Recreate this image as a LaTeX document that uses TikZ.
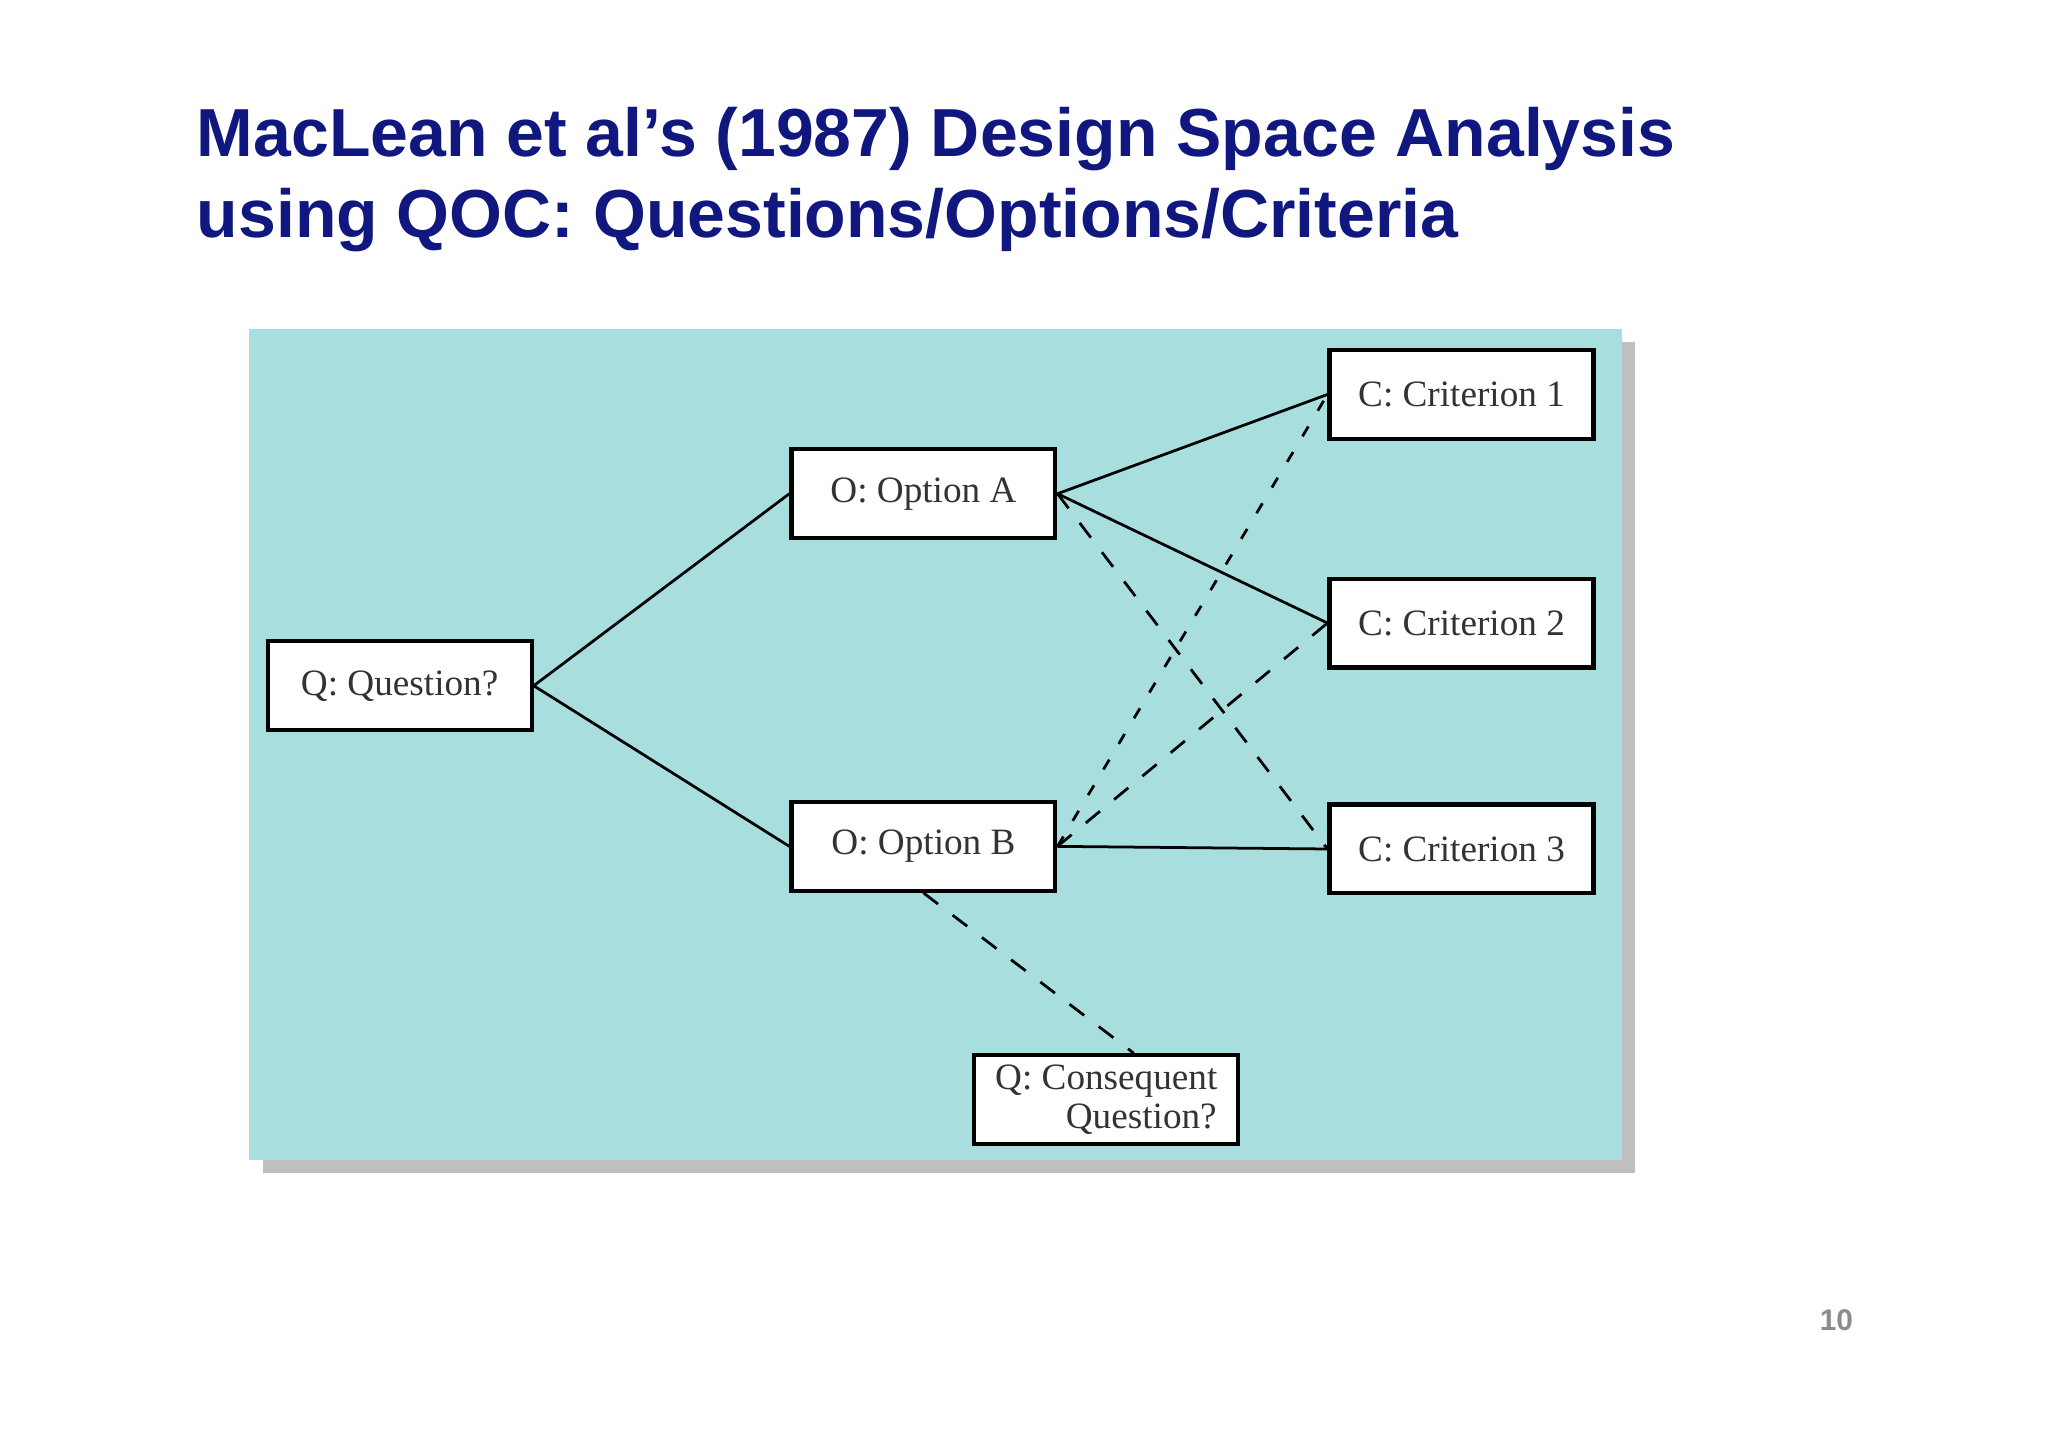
\documentclass[tikz,border=0pt]{standalone}
\usepackage{fontspec}
\setmainfont{Liberation Serif}
\newfontfamily\titlefont{Liberation Sans}
\begin{document}
\begin{tikzpicture}[x=0.01cm,y=-0.01cm,
  box/.style={draw,line width=0.9pt,fill=white,minimum width=2.02cm,minimum height=0.68cm,inner sep=0pt,font=\fontsize{8.1}{8.6}\selectfont,text=black!80},
  ln/.style={line width=0.6pt},
  dl/.style={line width=0.6pt,dash pattern=on 4pt off 4pt}]
\useasboundingbox (0,0) rectangle (1568,1108);
\fill[white] (0,0) rectangle (1568,1108);
\fill[black!25] (201,262) rectangle (1252,898);
\fill[fill={rgb,255:red,168;green,222;blue,222}] (191,252) rectangle (1242,888);
\node[anchor=base west,inner sep=0pt,font=\titlefont\bfseries\fontsize{14.8}{18}\selectfont,text={rgb,255:red,16;green,24;blue,128}] (t1) at (150,120) {MacLean et al’s (1987) Design Space Analysis};
\node[anchor=base west,inner sep=0pt,font=\titlefont\bfseries\fontsize{14.8}{18}\selectfont,text={rgb,255:red,16;green,24;blue,128}] (t2) at (150,182) {using QOC: Questions/Options/Criteria};
\node[font=\titlefont\bfseries\fontsize{6.5}{8}\selectfont,text=black!45] (pg) at (1406,1011) {10};
\node[box] (q) at (306,525) {Q: Question?};
\node[box] (a) at (707,378) {O: Option A};
\node[box] (b) at (707,648) {O: Option B};
\node[box] (c1) at (1119,302) {C: Criterion 1};
\node[box] (c2) at (1119,477) {C: Criterion 2};
\node[box] (c3) at (1119,650) {C: Criterion 3};
\node[box,align=left] (cq) at (847,842) {Q: Consequent\\\hspace{1.9em}Question?};
\draw[ln] (q.east) -- (a.west);
\draw[ln] (q.east) -- (b.west);
\draw[ln] (a.east) -- (c1.west);
\draw[ln] (a.east) -- (c2.west);
\draw[dl] (a.east) -- (c3.west);
\draw[ln] (b.east) -- (c3.west);
\draw[dl,dash pattern=on 2.5pt off 4pt] (b.east) -- (c1.west);
\draw[dl] (b.east) -- (c2.west);
\draw[dl] (b.south) -- ([xshift=6]cq.north);
\end{tikzpicture}
\end{document}
